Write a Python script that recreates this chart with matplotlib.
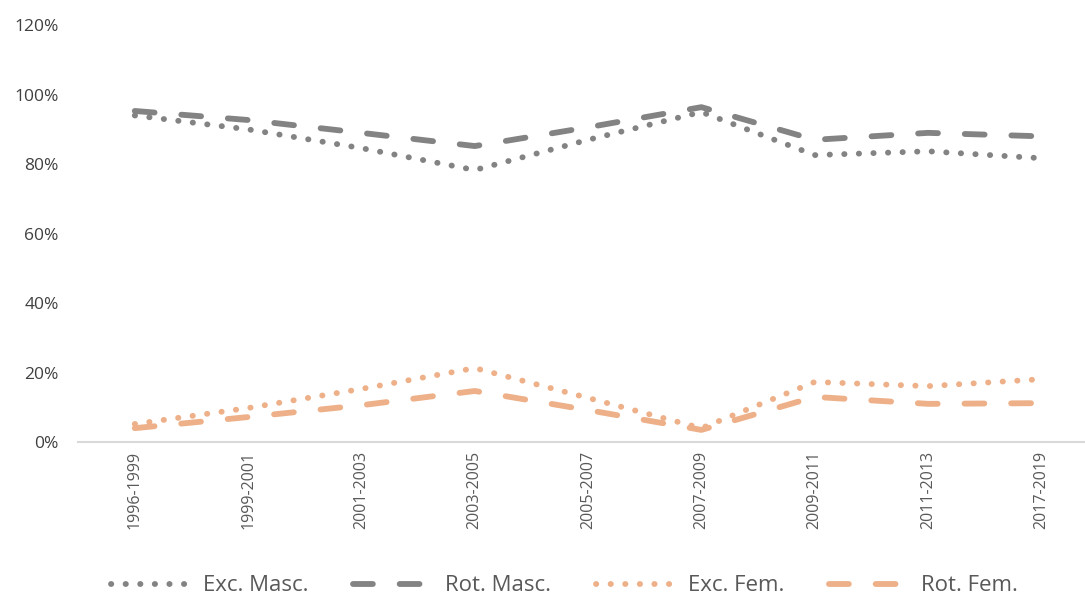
import matplotlib
matplotlib.use('Agg')
import matplotlib.pyplot as plt
import numpy as np
from matplotlib.ticker import PercentFormatter

plt.rcParams['font.family'] = ['Open Sans', 'DejaVu Sans']

periods = ['1996-1999', '1999-2001', '2001-2003', '2003-2005', '2005-2007',
           '2007-2009', '2009-2011', '2011-2013', '2017-2019']

exc_masc = [94.0, 90.0, 84.6, 78.3, 87.0, 95.0, 82.6, 83.7, 81.7]
rot_masc = [95.3, 92.7, 89.0, 85.2, 90.6, 96.4, 87.0, 89.0, 88.0]
exc_fem = [5.2, 9.8, 15.3, 21.3, 12.7, 4.0, 17.3, 16.1, 18.1]
rot_fem = [4.0, 7.2, 10.6, 14.7, 9.2, 3.5, 13.0, 11.0, 11.2]

gray = '#838383'
orange = '#EDB088'
dotted = (0, (0.05, 2.45))
dashed = (0, (3.4, 4.6))

fig = plt.figure(figsize=(10.85, 5.99), dpi=100)
ax = fig.add_axes([0.072, 0.262, 0.94, 0.696])

x = np.arange(len(periods))
lw = 4.2
series = [
    (exc_masc, 'Exc. Masc.', gray, dotted),
    (rot_masc, 'Rot. Masc.', gray, dashed),
    (exc_fem, 'Exc. Fem.', orange, dotted),
    (rot_fem, 'Rot. Fem.', orange, dashed),
]
for vals, label, color, ls in series:
    ax.plot(x, vals, color=color, lw=lw, linestyle=ls, label=label,
            dash_capstyle='round', solid_capstyle='round')

ax.set_xlim(-0.5, len(periods) - 0.5)
ax.set_ylim(0, 120)
ax.set_yticks(np.arange(0, 121, 20))
ax.yaxis.set_major_formatter(PercentFormatter(decimals=0))
ax.set_xticks(x)
ax.set_xticklabels(periods, rotation=90)

for side in ['top', 'right', 'left']:
    ax.spines[side].set_visible(False)
ax.spines['bottom'].set_color('#D9D9D9')
ax.spines['bottom'].set_linewidth(1.5)
ax.tick_params(axis='both', length=0)
ax.tick_params(axis='x', pad=6, colors='#595959', labelsize=11.5)
ax.tick_params(axis='y', pad=14, colors='#404040', labelsize=12.5)

fig.legend(loc='center', bbox_to_anchor=(0.52, 0.022), ncol=4, frameon=False,
           fontsize=16, handlelength=3.9, handletextpad=0.25,
           columnspacing=2.0, labelcolor='#595959')

fig.savefig('out.png', dpi=100)
